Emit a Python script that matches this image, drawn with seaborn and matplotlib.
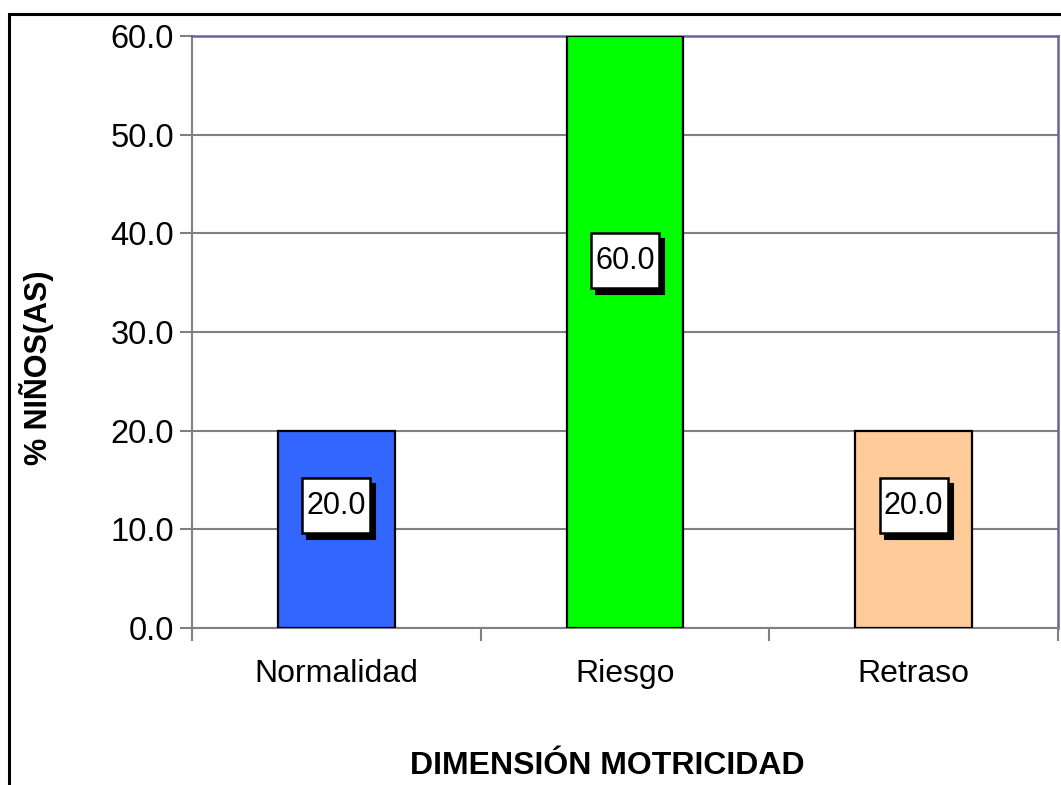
import numpy as np
import pandas as pd
import matplotlib
matplotlib.use('Agg')
import matplotlib.pyplot as plt
import matplotlib.transforms as mtransforms
import seaborn as sns
from matplotlib.patches import Rectangle

sns.set_style('white')
plt.rcParams['font.family'] = ['Liberation Sans', 'DejaVu Sans']
plt.rcParams['text.color'] = 'black'
plt.rcParams['axes.labelcolor'] = 'black'
plt.rcParams['xtick.color'] = 'black'
plt.rcParams['ytick.color'] = 'black'

# datos
categorias = ['Normalidad', 'Riesgo', 'Retraso']
porcentajes = [20.0, 60.0, 20.0]
colores = ['#3366FF', '#00FF00', '#FFCC99']
yticks = [0, 10, 20, 30, 40, 50, 60]

df = pd.DataFrame({'cat': categorias, 'pct': porcentajes})

fig = plt.figure(figsize=(10.61, 7.85), dpi=100)
ax = fig.add_axes([192 / 1061, 1 - 628 / 785, (1058 - 192) / 1061, (628 - 36) / 785])

# marco exterior
fig.patches.append(Rectangle((9 / 1061, -0.1), 1.2, 1 - 14 / 785 + 0.1, transform=fig.transFigure,
                             fill=False, edgecolor='black', linewidth=2.2, zorder=0))

sns.barplot(data=df, x='cat', y='pct', hue='cat', palette=colores, legend=False,
            width=0.405, edgecolor='black', linewidth=1.6, saturation=1, ax=ax, zorder=3)

ax.set_ylim(0, 60)
ax.set_xlim(-0.5, 2.5)
ax.set_yticks(yticks)
ax.set_yticklabels([f'{v:.1f}' for v in yticks], fontsize=23.5)
ax.yaxis.grid(True, color='#808080', linewidth=1.5, zorder=0)
ax.set_axisbelow(True)
ax.tick_params(axis='y', direction='out', length=9, width=1.5, color='#808080', pad=4, left=True,
               labelcolor='black')
ax.tick_params(axis='x', which='major', length=0, labelsize=23, pad=22, labelcolor='black')
ax.set_xticks([-0.5, 0.5, 1.5, 2.5], minor=True)
ax.tick_params(axis='x', which='minor', direction='out', length=9, width=1.5, color='#808080', bottom=True)

for lado in ['left', 'bottom']:
    ax.spines[lado].set_color('#808080')
    ax.spines[lado].set_linewidth(1.5)
for lado in ['top', 'right']:
    ax.spines[lado].set_color('#666699')
    ax.spines[lado].set_linewidth(1.8)

ax.set_xlabel('DIMENSIÓN MOTRICIDAD', fontsize=23, fontweight='bold', color='black')
ax.set_ylabel('% NIÑOS(AS)', fontsize=22, fontweight='bold', color='black')
ax.xaxis.set_label_coords(0.48, -0.208)
ax.yaxis.set_label_coords(-0.159, 0.44)

# etiquetas con sombra (cajas en pulgadas alrededor del punto)
for i, v in enumerate(porcentajes):
    y = v * 0.62
    base = fig.dpi_scale_trans + mtransforms.ScaledTranslation(i, y, ax.transData)
    ax.add_patch(Rectangle((-0.29, -0.335), 0.68, 0.55, transform=base, facecolor='black',
                           edgecolor='black', linewidth=1.5, zorder=5, clip_on=False))
    ax.add_patch(Rectangle((-0.34, -0.275), 0.68, 0.55, transform=base, facecolor='white',
                           edgecolor='black', linewidth=1.8, zorder=6, clip_on=False))
    ax.text(i, y, f'{v:.1f}', ha='center', va='center', fontsize=22, color='black', zorder=7)

fig.savefig('out.png', dpi=100)
